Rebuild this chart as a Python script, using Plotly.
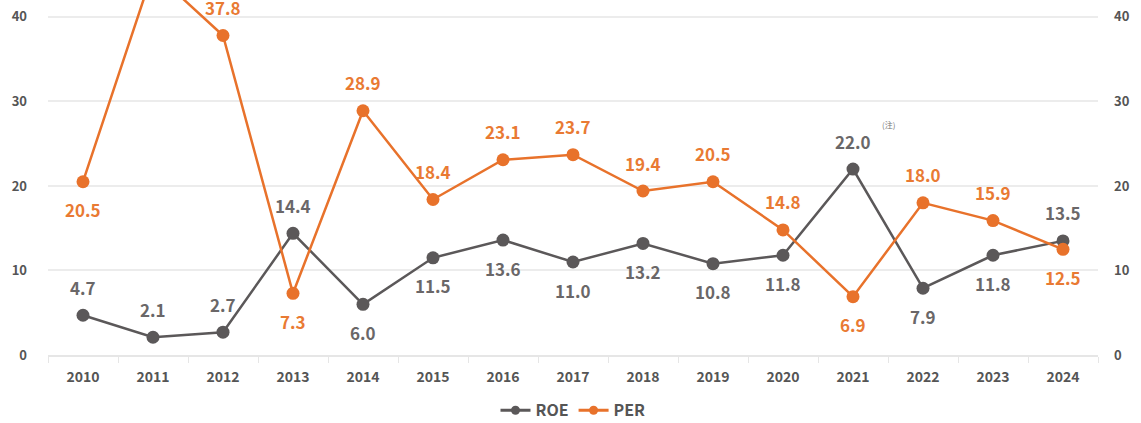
import plotly.graph_objects as go

years = ["2010", "2011", "2012", "2013", "2014", "2015", "2016", "2017",
         "2018", "2019", "2020", "2021", "2022", "2023", "2024"]
roe = [4.7, 2.1, 2.7, 14.4, 6.0, 11.5, 13.6, 11.0, 13.2, 10.8, 11.8, 22.0, 7.9, 11.8, 13.5]
per = [20.5, 45.4, 37.8, 7.3, 28.9, 18.4, 23.1, 23.7, 19.4, 20.5, 14.8, 6.9, 18.0, 15.9, 12.5]
roe_label_pos = ["top", "top", "top", "top", "bottom", "bottom", "bottom", "bottom",
                 "bottom", "bottom", "bottom", "top", "bottom", "bottom", "top"]
per_label_pos = ["bottom", "top", "top", "bottom", "top", "top", "top", "top",
                 "top", "top", "top", "bottom", "top", "top", "bottom"]
y_ticks = [0, 10, 20, 30, 40]

ROE_C = "#5b5859"
PER_C = "#e8722b"
FONT = "Noto Sans CJK JP, Roboto, sans-serif"

fig = go.Figure()
fig.add_trace(go.Scatter(x=years, y=roe, name="ROE", mode="lines+markers",
                         line=dict(color=ROE_C, width=2.5), showlegend=False,
                         marker=dict(size=13, color=ROE_C), yaxis="y"))
fig.add_trace(go.Scatter(x=years, y=per, name="PER", mode="lines+markers",
                         line=dict(color=PER_C, width=2.5), showlegend=False,
                         marker=dict(size=13, color=PER_C), yaxis="y2"))
# legend entries with smaller symbols
fig.add_trace(go.Scatter(x=[None], y=[None], name="ROE", mode="lines+markers",
                         line=dict(color=ROE_C, width=3),
                         marker=dict(size=9, color=ROE_C)))
fig.add_trace(go.Scatter(x=[None], y=[None], name="PER", mode="lines+markers",
                         line=dict(color=PER_C, width=3),
                         marker=dict(size=9, color=PER_C)))

annotations = []
for i, (v, pos) in enumerate(zip(roe, roe_label_pos)):
    annotations.append(dict(x=i, y=v, xref="x", yref="y", text=f"{v:.1f}",
                            showarrow=False, yshift=28 if pos == "top" else -28,
                            font=dict(size=17, color="#6a6768", family=FONT, weight="bold")))
for i, (v, pos) in enumerate(zip(per, per_label_pos)):
    annotations.append(dict(x=i, y=v, xref="x", yref="y2", text=f"{v:.1f}",
                            showarrow=False, yshift=28 if pos == "top" else -28,
                            font=dict(size=17, color="#e97a33", family=FONT, weight="bold")))
annotations.append(dict(x=years.index("2021"), y=22.0, xref="x", yref="y", text="(注)",
                        showarrow=False, xshift=35, yshift=45,
                        font=dict(size=8, color="#777777", family=FONT)))

yrange = [0, 42.0]
fig.update_layout(
    width=1141, height=423,
    margin=dict(l=48, r=43, t=0, b=68),
    paper_bgcolor="white", plot_bgcolor="white",
    font=dict(family=FONT, color="#555555"),
    showlegend=True,
    legend=dict(orientation="h", x=0.5, xanchor="center",
                yref="container", y=0.03, yanchor="middle",
                font=dict(size=16, color="#555555", weight="bold"), itemwidth=30,
                tracegroupgap=0),
    xaxis=dict(type="category", range=[-0.5, 14.5], showgrid=False, showline=True,
               linecolor="#e6e6e6", linewidth=1.5,
               ticks="outside", ticklen=6, tickcolor="#e6e6e6",
               tickson="boundaries", tickangle=0, ticklabelstandoff=8,
               tickfont=dict(size=14, color="#555555", weight="bold")),
    yaxis=dict(range=yrange, tickvals=y_ticks, showgrid=True, gridcolor="#ececec",
               gridwidth=1.5, zeroline=False, showline=False,
               ticks="", ticklabelstandoff=20,
               tickfont=dict(size=13, color="#555555", weight="bold")),
    yaxis2=dict(range=yrange, tickvals=y_ticks, overlaying="y", side="right",
                showgrid=False, zeroline=False, showline=False,
                ticks="", ticklabelstandoff=15,
                tickfont=dict(size=13, color="#555555", weight="bold")),
    annotations=annotations,
)

fig.write_html("out.html", config={"displayModeBar": False},
               post_script="document.body.style.margin='0';")
